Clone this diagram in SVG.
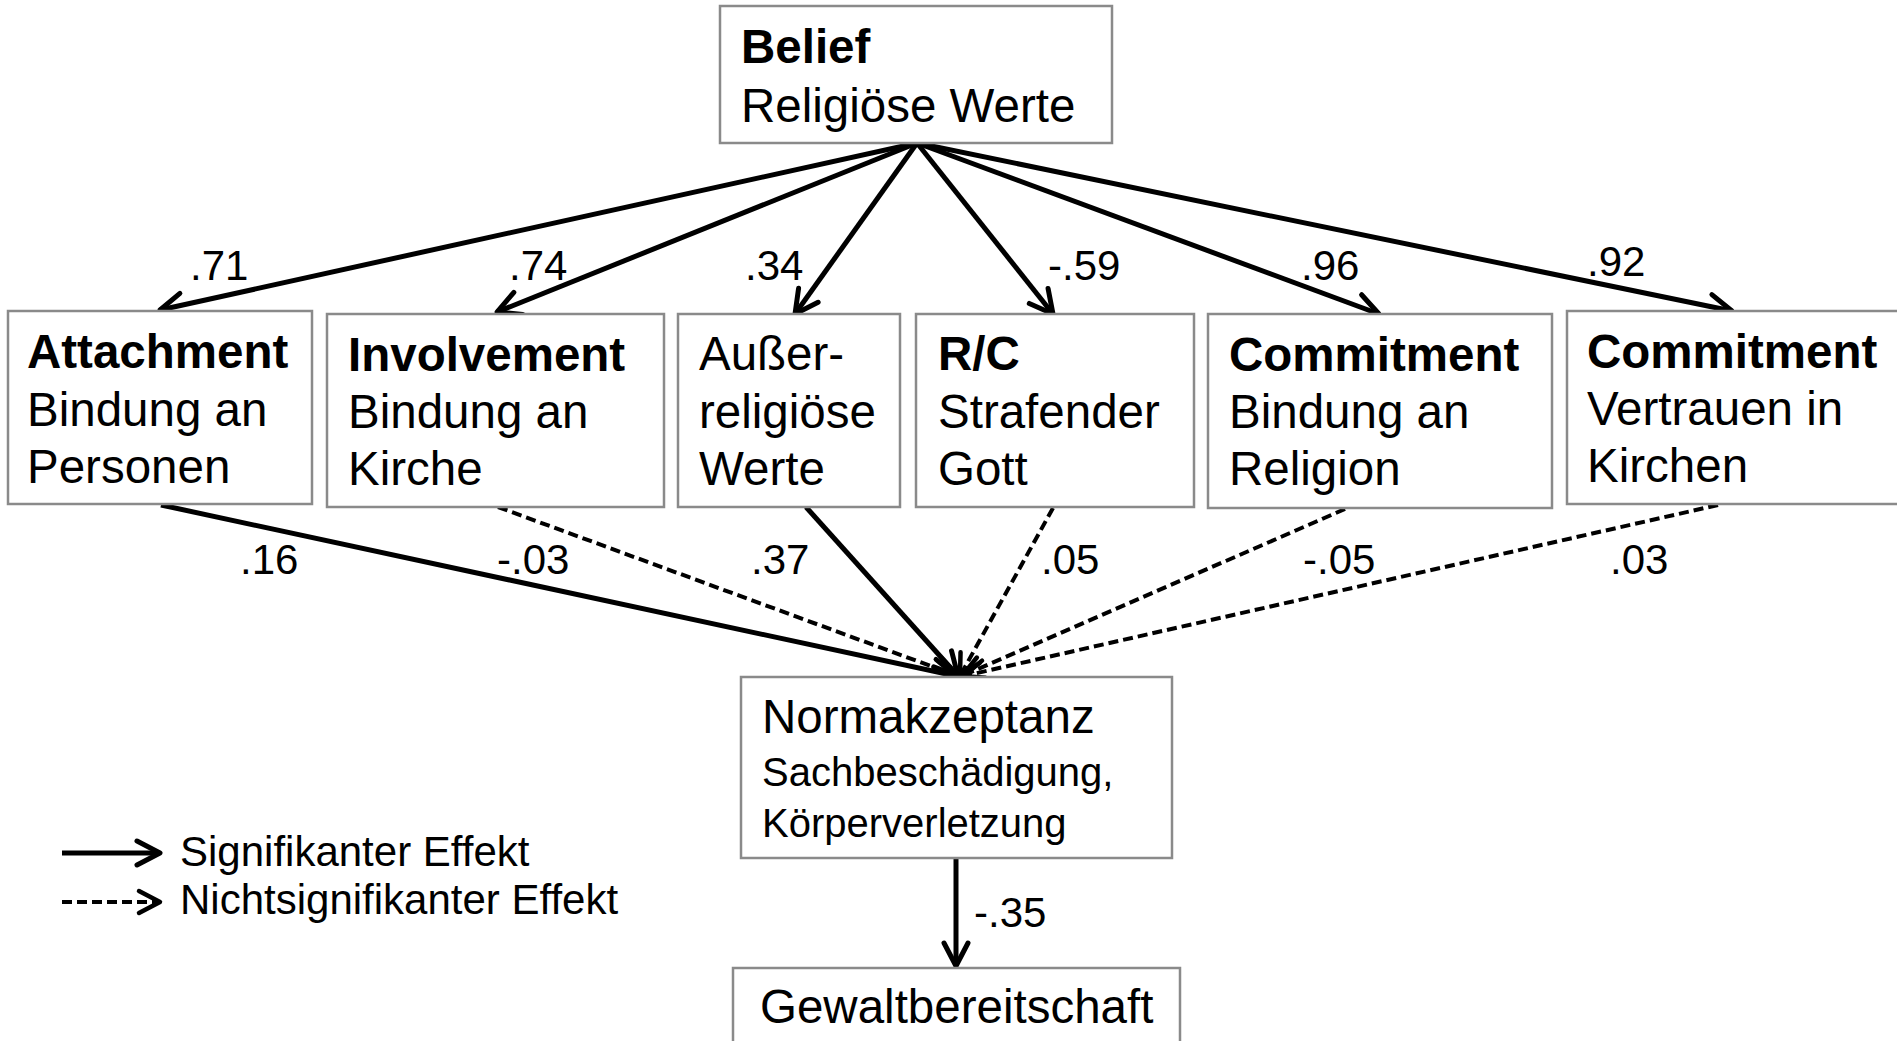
<svg xmlns="http://www.w3.org/2000/svg" width="1897" height="1041" viewBox="0 0 1897 1041">
<defs>
<style>
.box{fill:#fff;stroke:#8a8a8a;stroke-width:2.5}
text{font-family:"Liberation Sans",Arial,sans-serif;fill:#000}
.t{font-size:47.5px}
.b{font-weight:bold}
.s{font-size:40px}
.lbl{font-size:42px}
.sol{stroke:#000;stroke-width:5;fill:none}
.dsh{stroke:#000;stroke-width:4;fill:none;stroke-dasharray:10 5}
</style>
<marker id="ah" viewBox="-30 -20 40 40" markerWidth="40" markerHeight="40" refX="0" refY="0" orient="auto" markerUnits="userSpaceOnUse">
<path d="M-23,-12 L0,0 L-23,12" fill="none" stroke="#000" stroke-width="5" stroke-linecap="round" stroke-linejoin="round"/>
</marker>
<marker id="ahd" viewBox="-30 -20 40 40" markerWidth="40" markerHeight="40" refX="0" refY="0" orient="auto" markerUnits="userSpaceOnUse">
<path d="M-21,-11 L0,0 L-21,11" fill="none" stroke="#000" stroke-width="4.5" stroke-linecap="round" stroke-linejoin="round"/>
</marker>
</defs>
<rect width="1897" height="1041" fill="#fff"/>

<g id="connectors">
<line class="sol" x1="917" y1="143" x2="160" y2="310" marker-end="url(#ah)"/>
<line class="sol" x1="917" y1="143" x2="497" y2="312" marker-end="url(#ah)"/>
<line class="sol" x1="917" y1="143" x2="795" y2="314" marker-end="url(#ah)"/>
<line class="sol" x1="917" y1="143" x2="1053" y2="314" marker-end="url(#ah)"/>
<line class="sol" x1="917" y1="143" x2="1379" y2="314" marker-end="url(#ah)"/>
<line class="sol" x1="917" y1="143" x2="1732" y2="311" marker-end="url(#ah)"/>

<line class="sol" x1="161" y1="505" x2="956" y2="676" marker-end="url(#ah)"/>
<line class="dsh" x1="498" y1="507" x2="958" y2="676" marker-end="url(#ahd)"/>
<line class="sol" x1="806" y1="507" x2="958" y2="676" marker-end="url(#ah)"/>
<line class="dsh" x1="1053" y1="508" x2="960" y2="676" marker-end="url(#ahd)"/>
<line class="dsh" x1="1345" y1="509" x2="962" y2="676" marker-end="url(#ahd)"/>
<line class="dsh" x1="1718" y1="505" x2="964" y2="676" marker-end="url(#ahd)"/>

<line class="sol" x1="956" y1="859" x2="956" y2="966" marker-end="url(#ah)"/>

<line class="sol" x1="62" y1="853" x2="160" y2="853" marker-end="url(#ah)"/>
<line class="dsh" x1="62" y1="902" x2="160" y2="902" marker-end="url(#ahd)"/>
</g>

<g id="labels">
<text class="lbl" x="190" y="280">.71</text>
<text class="lbl" x="509" y="280">.74</text>
<text class="lbl" x="745" y="280">.34</text>
<text class="lbl" x="1048" y="280">-.59</text>
<text class="lbl" x="1301" y="280">.96</text>
<text class="lbl" x="1587" y="276">.92</text>
<text class="lbl" x="240" y="574">.16</text>
<text class="lbl" x="497" y="574">-.03</text>
<text class="lbl" x="751" y="574">.37</text>
<text class="lbl" x="1041" y="574">.05</text>
<text class="lbl" x="1303" y="574">-.05</text>
<text class="lbl" x="1610" y="574">.03</text>
<text class="lbl" x="974" y="927">-.35</text>
</g>

<g id="belief">
<rect class="box" x="720" y="6" width="392" height="137"/>
<text class="t b" x="741" y="63">Belief</text>
<text class="t" x="741" y="122">Religiöse Werte</text>
</g>

<g id="attachment">
<rect class="box" x="8" y="311" width="304" height="193"/>
<text class="t b" x="27" y="368">Attachment</text>
<text class="t" x="27" y="426">Bindung an</text>
<text class="t" x="27" y="483">Personen</text>
</g>

<g id="involvement">
<rect class="box" x="327" y="314" width="337" height="193"/>
<text class="t b" x="348" y="371">Involvement</text>
<text class="t" x="348" y="428">Bindung an</text>
<text class="t" x="348" y="485">Kirche</text>
</g>

<g id="ausser">
<rect class="box" x="678" y="314" width="222" height="193"/>
<text class="t" x="699" y="370">Außer-</text>
<text class="t" x="699" y="428">religiöse</text>
<text class="t" x="699" y="485">Werte</text>
</g>

<g id="rc">
<rect class="box" x="916" y="314" width="278" height="193"/>
<text class="t b" x="938" y="370">R/C</text>
<text class="t" x="938" y="428">Strafender</text>
<text class="t" x="938" y="485">Gott</text>
</g>

<g id="commitment1">
<rect class="box" x="1208" y="314" width="344" height="194"/>
<text class="t b" x="1229" y="371">Commitment</text>
<text class="t" x="1229" y="428">Bindung an</text>
<text class="t" x="1229" y="485">Religion</text>
</g>

<g id="commitment2">
<rect class="box" x="1567" y="311" width="340" height="193"/>
<text class="t b" x="1587" y="368">Commitment</text>
<text class="t" x="1587" y="425">Vertrauen in</text>
<text class="t" x="1587" y="482">Kirchen</text>
</g>

<g id="normakzeptanz">
<rect class="box" x="741" y="677" width="431" height="181"/>
<text class="t" x="762" y="733">Normakzeptanz</text>
<text class="s" x="762" y="786">Sachbeschädigung,</text>
<text class="s" x="762" y="837">Körperverletzung</text>
</g>

<g id="gewalt">
<rect class="box" x="733" y="968" width="447" height="100"/>
<text class="t" x="760" y="1023">Gewaltbereitschaft</text>
</g>

<g id="legend">
<text class="lbl" x="180" y="866">Signifikanter Effekt</text>
<text class="lbl" x="180" y="914">Nichtsignifikanter Effekt</text>
</g>
</svg>
